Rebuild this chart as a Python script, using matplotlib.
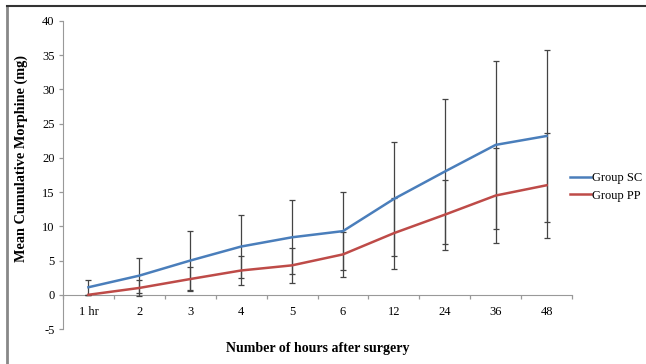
import matplotlib.pyplot as plt
from matplotlib.lines import Line2D
import numpy as np

plt.rcParams['font.family'] = ['Liberation Serif', 'DejaVu Serif']

hours = ['1 hr', '2', '3', '4', '5', '6', '12', '24', '36', '48']
sc_mean = [1.1, 2.8, 5.0, 7.05, 8.4, 9.3, 14.0, 18.0, 21.9, 23.2]
sc_sd = [1.1, 2.6, 4.25, 4.65, 5.4, 5.7, 8.3, 10.6, 12.3, 12.5]
pp_mean = [0.0, 1.0, 2.3, 3.55, 4.3, 5.9, 9.0, 11.7, 14.5, 16.0]
pp_sd = [0.0, 1.2, 1.8, 2.1, 2.6, 3.3, 5.2, 5.1, 6.9, 7.7]

fig = plt.figure(figsize=(6.46, 3.64), dpi=100)
ax = fig.add_axes([63 / 646, 1 - 329 / 364, (572 - 63) / 646, (329 - 21) / 364])

x = np.arange(len(hours))
blue = '#4a7ebb'
red = '#be4b48'

ax.errorbar(x, sc_mean, yerr=sc_sd, color=blue, lw=1.8, ecolor='#444444',
            elinewidth=0.9, capsize=2.2, capthick=0.9, zorder=3)
ax.errorbar(x, pp_mean, yerr=pp_sd, color=red, lw=1.8, ecolor='#444444',
            elinewidth=0.9, capsize=2.2, capthick=0.9, zorder=3)

ax.set_xlim(-0.5, len(hours) - 0.5)
ax.set_ylim(-5, 40)
ax.set_yticks(np.arange(-5, 41, 5))
ax.set_yticklabels([str(v) for v in range(-5, 41, 5)])
ax.set_xticks(x)
ax.set_xticklabels(hours)
ax.set_xticks(np.arange(-0.5, len(hours), 1), minor=True)
ax.tick_params(axis='x', which='major', length=0, pad=8, labelsize=9)
ax.tick_params(axis='x', which='minor', length=3, width=0.9, color='#999999', direction='out')
ax.tick_params(axis='y', length=3, width=0.9, color='#999999', labelsize=9, pad=3)

for s in ['top', 'right']:
    ax.spines[s].set_visible(False)
ax.spines['left'].set_color('#999999')
ax.spines['bottom'].set_color('#999999')
ax.spines['bottom'].set_position(('data', 0))

ax.set_ylabel('Mean Cumulative Morphine (mg)', fontsize=10.3, fontweight='bold')
ax.yaxis.set_label_coords(-0.068, 0.555)
ax.text(0.5, -0.062, 'Number of hours after surgery', transform=ax.transAxes,
        fontsize=10, fontweight='bold', ha='center', va='center')

hs = [Line2D([], [], color=blue, lw=1.8), Line2D([], [], color=red, lw=1.8)]
fig.legend(hs, ['Group SC', 'Group PP'], loc='center left',
           bbox_to_anchor=(570 / 646, 1 - 187 / 364), frameon=False, fontsize=9,
           handlelength=1.7, handletextpad=0.1, labelspacing=0.45,
           borderpad=0, borderaxespad=0)

# chart area border (left and top visible)
fig.add_artist(Line2D([7 / 646, 7 / 646], [0, 1 - 6 / 364], transform=fig.transFigure,
                      color='#888888', lw=2))
fig.add_artist(Line2D([7 / 646, 1], [1 - 6 / 364, 1 - 6 / 364], transform=fig.transFigure,
                      color='#333333', lw=1.5))

fig.savefig('out.png', dpi=100)
